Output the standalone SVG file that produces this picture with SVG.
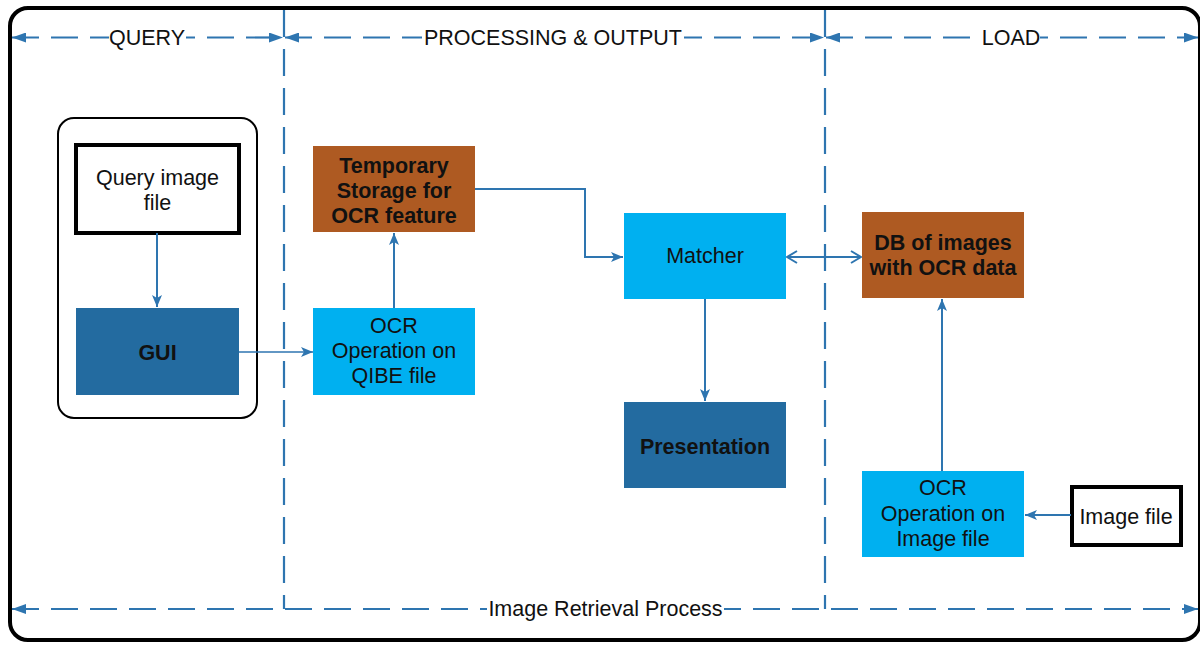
<svg xmlns="http://www.w3.org/2000/svg" width="1200" height="645" viewBox="0 0 1200 645">
<style>
text{font-family:"Liberation Sans",Arial,sans-serif;font-size:21.5px;fill:#111;text-anchor:middle}
.b{font-weight:bold}
.dash{stroke:#2e75b0;stroke-width:2.2;stroke-dasharray:27 12;fill:none}
.conn{stroke:#2e75b0;stroke-width:2;fill:none}
.thin{stroke:#2e75b0;stroke-width:1.3;fill:none}
.cyan{fill:#00b0f0}
.brown{fill:#ae5a22}
.dark{fill:#236ba0}
.file{fill:#fff;stroke:#000;stroke-width:4}
</style>
<defs>
<marker id="ah" viewBox="0 0 12 10" refX="12" refY="5" markerWidth="12" markerHeight="10" markerUnits="userSpaceOnUse" orient="auto-start-reverse">
<path d="M0,0 L12,5 L0,10 L3,5 Z" fill="#2e75b0"/>
</marker>
<marker id="dh" viewBox="0 0 14 10" refX="14" refY="5" markerWidth="14" markerHeight="10" markerUnits="userSpaceOnUse" orient="auto-start-reverse">
<path d="M0,0 L14,5 L0,10 Z" fill="#2e75b0"/>
</marker>
<marker id="oh" viewBox="0 0 12 14" refX="11" refY="7" markerWidth="12" markerHeight="14" markerUnits="userSpaceOnUse" orient="auto-start-reverse">
<path d="M1,1 L11,7 L1,13" fill="none" stroke="#2e75b0" stroke-width="2"/>
</marker>
</defs>
<rect width="1200" height="645" fill="#fff"/>
<rect x="10" y="8" width="1190" height="632" rx="18" fill="none" stroke="#000" stroke-width="4"/>

<g id="lanes">
<line class="dash" x1="284" y1="10" x2="284" y2="609"/>
<line class="dash" x1="825" y1="10" x2="825" y2="609"/>
<line class="dash" x1="12" y1="37.5" x2="283" y2="37.5" marker-start="url(#dh)" marker-end="url(#dh)"/>
<line class="dash" x1="285" y1="37.5" x2="824" y2="37.5" marker-start="url(#dh)" marker-end="url(#dh)"/>
<line class="dash" x1="826" y1="37.5" x2="1198" y2="37.5" marker-start="url(#dh)" marker-end="url(#dh)"/>
<line class="dash" x1="12" y1="609" x2="1198" y2="609" marker-start="url(#dh)" marker-end="url(#dh)"/>
<rect x="109" y="26" width="77" height="24" fill="#fff"/>
<text x="147" y="45">QUERY</text>
<rect x="422" y="26" width="262" height="24" fill="#fff"/>
<text x="553" y="45">PROCESSING &amp; OUTPUT</text>
<rect x="982" y="26" width="58" height="24" fill="#fff"/>
<text x="1011" y="45">LOAD</text>
<rect x="487" y="597" width="237" height="24" fill="#fff"/>
<text x="605.5" y="616">Image Retrieval Process</text>
</g>

<g id="query-group">
<rect x="58" y="118" width="199" height="300" rx="16" fill="none" stroke="#000" stroke-width="2"/>
</g>
<g id="query-image-file">
<rect class="file" x="76" y="145" width="163" height="88"/>
<text x="157.5" y="185">Query image</text>
<text x="157.5" y="210">file</text>
</g>
<g id="gui">
<rect class="dark" x="76" y="308" width="163" height="87"/>
<text class="b" x="157.5" y="360">GUI</text>
</g>
<g id="temp-storage">
<rect class="brown" x="313" y="146" width="162" height="86"/>
<text class="b" x="394" y="173">Temporary</text>
<text class="b" x="394" y="198">Storage for</text>
<text class="b" x="394" y="223">OCR feature</text>
</g>
<g id="ocr-qibe">
<rect class="cyan" x="313" y="308" width="162" height="87"/>
<text x="394" y="333">OCR</text>
<text x="394" y="358">Operation on</text>
<text x="394" y="383">QIBE file</text>
</g>
<g id="matcher">
<rect class="cyan" x="624" y="213" width="162" height="86"/>
<text x="705" y="263">Matcher</text>
</g>
<g id="presentation">
<rect class="dark" x="624" y="402" width="162" height="86"/>
<text class="b" x="705" y="454">Presentation</text>
</g>
<g id="db">
<rect class="brown" x="862" y="212" width="162" height="86"/>
<text class="b" x="943" y="250">DB of images</text>
<text class="b" x="943" y="275">with OCR data</text>
</g>
<g id="ocr-image">
<rect class="cyan" x="862" y="471" width="162" height="86"/>
<text x="943" y="495">OCR</text>
<text x="943" y="521">Operation on</text>
<text x="943" y="546">Image file</text>
</g>
<g id="image-file">
<rect class="file" x="1072" y="487" width="109" height="58"/>
<text x="1126" y="524">Image file</text>
</g>

<g id="connectors">
<line class="conn" x1="157" y1="233" x2="157" y2="307" marker-end="url(#ah)"/>
<line class="thin" x1="239" y1="352" x2="313" y2="352" marker-end="url(#ah)"/>
<line class="conn" x1="394" y1="308" x2="394" y2="233" marker-end="url(#ah)"/>
<polyline class="conn" points="475,189 585,189 585,257 623,257" marker-end="url(#ah)"/>
<line class="conn" x1="787" y1="257" x2="861" y2="257" marker-start="url(#oh)" marker-end="url(#oh)"/>
<line class="conn" x1="705" y1="299" x2="705" y2="401" marker-end="url(#ah)"/>
<line class="conn" x1="942" y1="471" x2="942" y2="299" marker-end="url(#ah)"/>
<line class="conn" x1="1071" y1="515" x2="1025" y2="515" marker-end="url(#ah)"/>
</g>
</svg>
